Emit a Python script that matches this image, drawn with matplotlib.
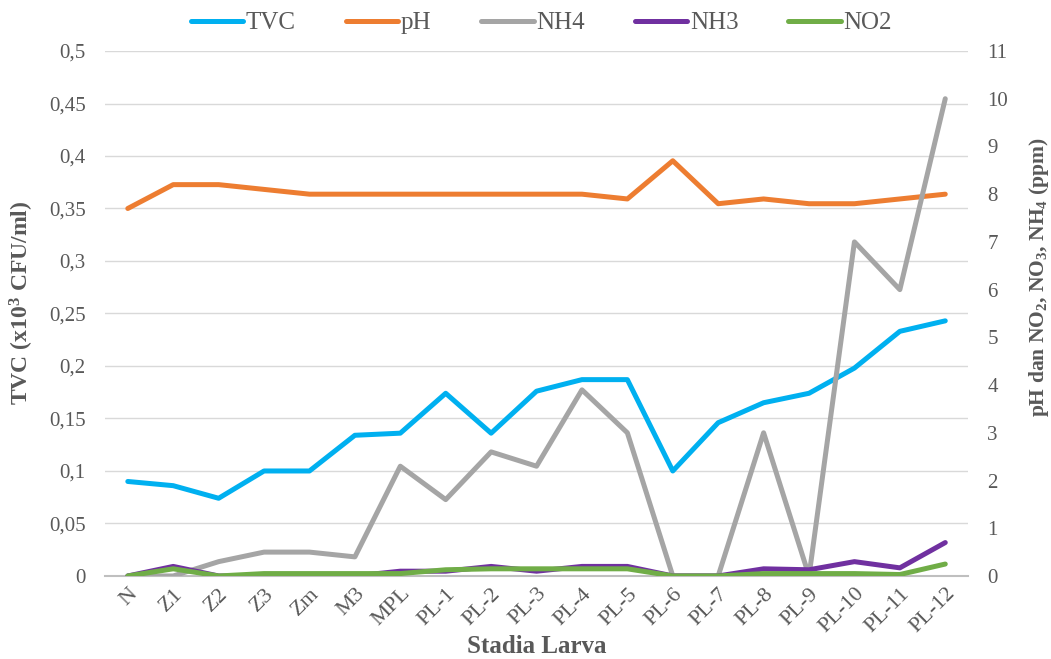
import numpy as np
import matplotlib.pyplot as plt
from matplotlib.ticker import FuncFormatter

plt.rcParams['font.family'] = ['Liberation Serif', 'DejaVu Serif']
plt.rcParams['mathtext.fontset'] = 'custom'
plt.rcParams['mathtext.rm'] = 'Liberation Serif:bold'
plt.rcParams['mathtext.bf'] = 'Liberation Serif:bold'
plt.rcParams['mathtext.it'] = 'Liberation Serif:bold'

stages = ['N', 'Z1', 'Z2', 'Z3', 'Zm', 'M3', 'MPL', 'PL-1', 'PL-2', 'PL-3',
          'PL-4', 'PL-5', 'PL-6', 'PL-7', 'PL-8', 'PL-9', 'PL-10', 'PL-11', 'PL-12']
tvc = [0.09, 0.086, 0.074, 0.1, 0.1, 0.134, 0.136, 0.174, 0.136, 0.176,
       0.187, 0.187, 0.1, 0.146, 0.165, 0.174, 0.198, 0.233, 0.243]
ph = [7.7, 8.2, 8.2, 8.1, 8.0, 8.0, 8.0, 8.0, 8.0, 8.0,
      8.0, 7.9, 8.7, 7.8, 7.9, 7.8, 7.8, 7.9, 8.0]
nh4 = [0, 0, 0.3, 0.5, 0.5, 0.4, 2.3, 1.6, 2.6, 2.3,
       3.9, 3.0, 0, 0, 3.0, 0, 7.0, 6.0, 10.0]
nh3 = [0, 0.2, 0, 0, 0, 0, 0.1, 0.1, 0.2, 0.1,
       0.2, 0.2, 0, 0, 0.15, 0.13, 0.3, 0.17, 0.7]
no2 = [0, 0.15, 0, 0.05, 0.05, 0.05, 0.05, 0.13, 0.15, 0.15,
       0.15, 0.15, 0, 0, 0.05, 0.05, 0.05, 0.03, 0.25]

txt = '#595959'
x = np.arange(len(stages))

fig, ax = plt.subplots(figsize=(10.51, 6.59), dpi=100)
fig.subplots_adjust(left=0.1, right=0.921, top=0.9226, bottom=0.126)
ax2 = ax.twinx()

lw = 3.6
l1, = ax.plot(x, tvc, color='#00B0F0', lw=lw, solid_capstyle='round', label='TVC')
l2, = ax2.plot(x, ph, color='#ED7D31', lw=lw, solid_capstyle='round', label='pH')
l3, = ax2.plot(x, nh4, color='#A5A5A5', lw=lw, solid_capstyle='round', label='NH4')
l4, = ax2.plot(x, nh3, color='#7030A0', lw=lw, solid_capstyle='round', label='NH3')
l5, = ax2.plot(x, no2, color='#70AD47', lw=lw, solid_capstyle='round', label='NO2')

ax.set_xlim(-0.5, len(stages) - 0.5)
ax.set_ylim(0, 0.5)
ax2.set_ylim(0, 11)
ax.set_yticks(np.arange(0, 0.51, 0.05))
ax2.set_yticks(np.arange(0, 12, 1))
ax.yaxis.set_major_formatter(FuncFormatter(lambda v, p: ('%g' % round(v, 2)).replace('.', ',')))

ax.grid(axis='y', color='#D9D9D9', lw=1)
ax.set_axisbelow(True)
for a in (ax, ax2):
    for s in a.spines.values():
        s.set_visible(False)
    a.tick_params(length=0, labelsize=15, labelcolor=txt)
ax.spines['bottom'].set_visible(True)
ax.spines['bottom'].set_color('#BFBFBF')
ax.spines['bottom'].set_linewidth(1.5)

ax.set_xticks(x)
ax.set_xticklabels(stages, rotation=45, ha='right', rotation_mode='anchor', fontsize=16)
ax.tick_params(axis='x', pad=6)
ax.tick_params(axis='y', pad=14)
ax2.tick_params(axis='y', pad=14)

ax.set_xlabel('Stadia Larva', fontsize=18, fontweight='bold', color=txt)
ax.xaxis.set_label_coords(0.5, -0.113)
ax.set_ylabel('TVC (x10$^3$ CFU/ml)', fontsize=17, fontweight='bold', color=txt)
ax.yaxis.set_label_coords(-0.08, 0.52)
ax2.set_ylabel('pH dan NO$_2$, NO$_3$, NH$_4$ (ppm)', fontsize=15.5, fontweight='bold',
               color=txt, rotation=90)
ax2.yaxis.set_label_coords(1.068, 0.57)

leg = fig.legend(handles=[l1, l2, l3, l4, l5], loc='center', bbox_to_anchor=(0.515, 0.965),
                 ncol=5, frameon=False, fontsize=18, handlelength=2.1, columnspacing=2.0,
                 handletextpad=0.1)
for t in leg.get_texts():
    t.set_color(txt)

fig.savefig('out.png', dpi=100)
